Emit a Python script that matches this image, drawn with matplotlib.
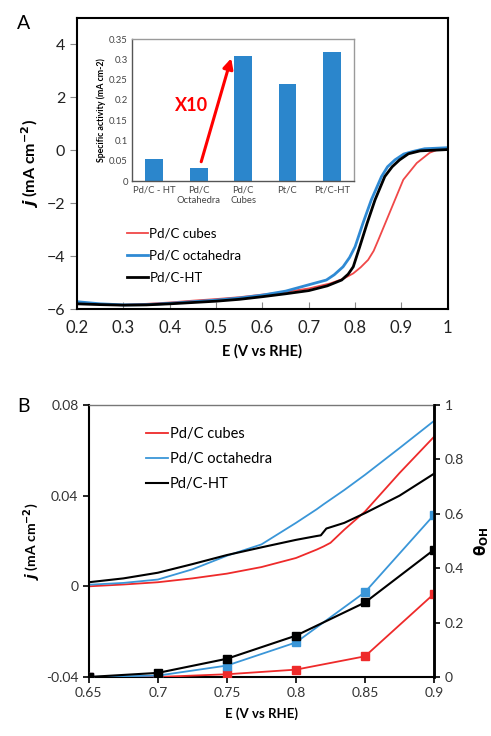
import numpy as np
import matplotlib
matplotlib.use('Agg')
import matplotlib.pyplot as plt

plt.rcParams['font.family'] = ['Lato', 'DejaVu Sans']

RED = '#ee2a2a'
BLUE = '#2f8ad4'
BAR = '#2b86cc'

# ---- panel A: ORR polarization curves
E_low = [0.2, 0.25, 0.3, 0.35, 0.4, 0.45, 0.5, 0.55, 0.6, 0.65, 0.7]

E_cubes = E_low + [0.746, 0.775, 0.796, 0.812, 0.828, 0.84, 0.85, 0.868, 0.886, 0.904,
                   0.933, 0.961, 0.98, 1.0]
j_cubes = [-5.75, -5.82, -5.84, -5.8, -5.75, -5.68, -5.62, -5.55, -5.45, -5.35, -5.22,
           -5.03, -4.85, -4.65, -4.42, -4.14, -3.8, -3.39, -2.63, -1.87, -1.11,
           -0.48, -0.09, 0.04, 0.07]

E_octa = E_low + [0.738, 0.755, 0.774, 0.788, 0.8, 0.817, 0.835, 0.857, 0.87, 0.886,
                  0.905, 0.925, 0.95, 1.0]
j_octa = [-5.72, -5.8, -5.84, -5.83, -5.78, -5.72, -5.66, -5.58, -5.47, -5.32, -5.08,
          -4.9, -4.7, -4.4, -4.05, -3.64, -2.75, -1.87, -0.99, -0.62, -0.36,
          -0.14, -0.04, 0.06, 0.1]

E_ht = E_low + [0.74, 0.771, 0.785, 0.796, 0.81, 0.826, 0.843, 0.864, 0.88, 0.896,
                0.915, 0.94, 1.0]
j_ht = [-5.8, -5.83, -5.85, -5.84, -5.8, -5.75, -5.7, -5.63, -5.53, -5.42, -5.3,
        -5.12, -4.9, -4.68, -4.4, -3.64, -2.75, -1.87, -0.99, -0.62, -0.36,
        -0.13, -0.02, 0.03]

# inset: specific activity
inset_cats = ['Pd/C - HT', 'Pd/C\nOctahedra', 'Pd/C\nCubes', 'Pt/C', 'Pt/C-HT']
inset_vals = [0.054, 0.032, 0.308, 0.24, 0.318]

# ---- panel B: low-current region and OH coverage
E_b = [0.65, 0.675, 0.7, 0.725, 0.75, 0.775, 0.8, 0.815, 0.82, 0.825, 0.835, 0.85, 0.875, 0.9]
jb_cubes = [0.0, 0.0008, 0.0018, 0.0035, 0.0056, 0.0085, 0.0125, 0.0162, 0.0176, 0.0192,
            0.025, 0.033, 0.05, 0.066]
jb_octa = [0.0007, 0.0015, 0.003, 0.0075, 0.0135, 0.0185, 0.028, 0.034, 0.0362, 0.0383,
           0.0425, 0.0492, 0.061, 0.073]
E_b_ht = [0.65, 0.675, 0.7, 0.725, 0.75, 0.775, 0.8, 0.815, 0.818, 0.822, 0.835, 0.85, 0.875, 0.9]
jb_ht = [0.0018, 0.0035, 0.006, 0.0098, 0.0138, 0.0172, 0.0205, 0.0222, 0.0225, 0.0255,
         0.028, 0.0323, 0.04, 0.0497]

E_theta = [0.65, 0.7, 0.75, 0.8, 0.85, 0.9]
theta_cubes = [0.0, 0.0, 0.01, 0.027, 0.076, 0.306]
theta_octa = [0.0, 0.005, 0.042, 0.127, 0.312, 0.596]
theta_ht = [0.0, 0.015, 0.067, 0.152, 0.274, 0.468]

fig = plt.figure(figsize=(4.91, 7.36), dpi=100)

# ================= panel A
axA = fig.add_axes([0.157, 0.580, 0.755, 0.3955])
axA.plot(E_cubes, j_cubes, color='#f04848', lw=1.3, label='Pd/C cubes')
axA.plot(E_octa, j_octa, color=BLUE, lw=2.0, label='Pd/C octahedra')
axA.plot(E_ht, j_ht, color='black', lw=2.0, label='Pd/C-HT')
axA.set_xlim(0.2, 1.0)
axA.set_ylim(-6, 5)
axA.set_xticks(np.arange(0.2, 1.01, 0.1))
axA.set_xticklabels(['0.2', '0.3', '0.4', '0.5', '0.6', '0.7', '0.8', '0.9', '1'])
axA.set_yticks([-6, -4, -2, 0, 2, 4])
axA.tick_params(axis='x', labelsize=12, labelcolor='#222222', direction='in', length=5,
                color='#888888', pad=8)
axA.tick_params(axis='y', labelsize=11.5, labelcolor='#222222', direction='out', length=5,
                color='#888888')
for s in axA.spines.values():
    s.set_linewidth(1.5)
axA.set_xlabel('E (V vs RHE)', fontsize=10.5, fontweight='bold', labelpad=6)
axA.set_ylabel(r'$\mathbfit{j}$ (mA cm$^{\mathbf{-2}}$)', fontsize=11.5, fontweight='bold', labelpad=4)
axA.legend(loc='lower left', bbox_to_anchor=(0.12, 0.07), frameon=False, fontsize=9.5,
           handlelength=1.6, handletextpad=0.1, labelspacing=0.75, borderaxespad=0)
fig.text(0.035, 0.968, 'A', fontsize=14, va='center')

# inset bars
axI = fig.add_axes([0.269, 0.754, 0.452, 0.193])
xi = np.arange(len(inset_cats))
axI.bar(xi, inset_vals, width=0.4, color=BAR)
axI.set_xlim(-0.5, 4.5)
axI.set_ylim(0, 0.35)
axI.set_yticks(np.arange(0, 0.351, 0.05))
axI.set_yticklabels(['0', '0.05', '0.1', '0.15', '0.2', '0.25', '0.3', '0.35'])
axI.set_xticks(xi)
axI.set_xticklabels(inset_cats, linespacing=1.3)
axI.tick_params(labelsize=6.8, labelcolor='#444444', length=0, pad=3)
axI.set_ylabel('Specific activity (mA cm-2)', fontsize=6.3, fontweight='bold', labelpad=2)
for s in axI.spines.values():
    s.set_color('#9a9a9a')
    s.set_linewidth(1.0)
axI.spines['left'].set_color('#555555')
axI.spines['bottom'].set_color('#555555')
axI.annotate('', xy=(1.75, 0.309), xytext=(1.04, 0.041),
             arrowprops=dict(arrowstyle='-|>,head_length=0.6,head_width=0.3', color='red', lw=2.2))
axI.text(0.85, 0.185, 'X10', color='red', fontsize=13, fontweight='bold', ha='center', va='center')

# ================= panel B
axB = fig.add_axes([0.181, 0.0802, 0.703, 0.3695])
axB.plot(E_b, jb_cubes, color=RED, lw=1.3, label='Pd/C cubes')
axB.plot(E_b, jb_octa, color='#3a96d8', lw=1.3, label='Pd/C octahedra')
axB.plot(E_b_ht, jb_ht, color='black', lw=1.5, label='Pd/C-HT')
axB.set_xlim(0.65, 0.9)
axB.set_ylim(-0.04, 0.08)
axB.set_xticks([0.65, 0.7, 0.75, 0.8, 0.85, 0.9])
axB.set_xticklabels(['0.65', '0.7', '0.75', '0.8', '0.85', '0.9'])
axB.set_yticks([-0.04, 0, 0.04, 0.08])
axB.set_yticklabels(['-0.04', '0', '0.04', '0.08'])
axB.tick_params(labelsize=10, labelcolor='#333333', direction='out', length=4, width=1.2)
axB.spines['top'].set_color('#777777')
axB.spines['top'].set_linewidth(1.0)
axB.spines['left'].set_linewidth(1.5)
axB.spines['bottom'].set_linewidth(1.5)
axB.spines['right'].set_linewidth(1.8)
axB.set_xlabel('E (V vs RHE)', fontsize=9.5, fontweight='bold', labelpad=6)
axB.set_ylabel(r'$\mathbfit{j}$ (mA cm$^{\mathbf{-2}}$)', fontsize=10, fontweight='bold', labelpad=2)
axB.legend(loc='upper left', bbox_to_anchor=(0.15, 0.94), frameon=False, fontsize=10.5,
           handlelength=1.5, handletextpad=0.1, labelspacing=0.75, borderaxespad=0)
fig.text(0.035, 0.448, 'B', fontsize=14, va='center')

axT = axB.twinx()
axT.plot(E_theta, theta_cubes, color=RED, lw=1.3, marker='s', ms=5.5)
axT.plot(E_theta, theta_octa, color='#3a96d8', lw=1.3, marker='s', ms=5.5)
axT.plot(E_theta, theta_ht, color='black', lw=1.5, marker='s', ms=5.5)
axT.set_ylim(0, 1)
axT.set_yticks([0, 0.2, 0.4, 0.6, 0.8, 1.0])
axT.set_yticklabels(['0', '0.2', '0.4', '0.6', '0.8', '1'])
axT.tick_params(labelsize=10, labelcolor='#333333', direction='out', length=4, width=1.2)
axT.set_ylabel(r'$\mathbf{\theta_{OH}}$', fontsize=11, labelpad=6)
axT.spines['right'].set_linewidth(1.8)
axT.spines['top'].set_visible(False)
axT.spines['left'].set_visible(False)
axT.spines['bottom'].set_visible(False)

fig.savefig('out.png', dpi=100)
